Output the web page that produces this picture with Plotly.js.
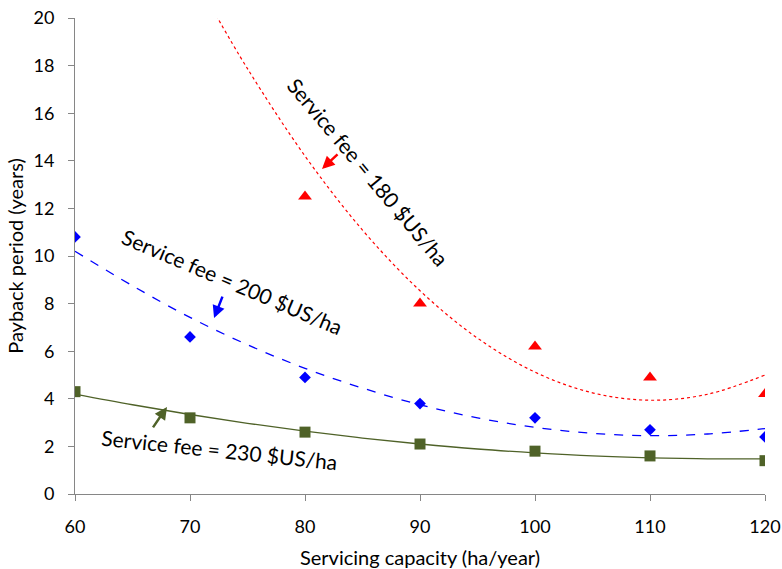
<!DOCTYPE html>
<html>
<head>
<meta charset="utf-8">
<script src="https://cdn.plot.ly/plotly-3.0.1.min.js"></script>
<style>
  html, body { margin: 0; padding: 0; background: #fff; }
  #chart { width: 782px; height: 569px; }
</style>
</head>
<body>
<div id="chart"></div>
<script>
// Servicing capacity (ha/year)
const capacity = [60, 70, 80, 90, 100, 110, 120];

// Payback period (years) per service fee
const fee180 = [null, null, 12.5, 8.0, 6.2, 4.9, 4.2];
const fee200 = [10.8, 6.6, 4.9, 3.8, 3.2, 2.7, 2.4];
const fee230 = [4.3, 3.2, 2.6, 2.1, 1.8, 1.6, 1.4];

// Polynomial trend lines
const trend180X = [72, 75, 80, 85, 90, 95, 100, 105, 110, 115, 120];
const trend180Y = [20.34, 17.87, 14.20, 11.09, 8.54, 6.55, 5.12, 4.25, 3.94, 4.19, 5.00];
const trend200X = [60, 65, 70, 75, 80, 85, 90, 95, 100, 105, 110, 115, 120];
const trend200Y = [10.2, 8.75, 7.42, 6.27, 5.28, 4.45, 3.75, 3.2, 2.8, 2.55, 2.45, 2.52, 2.75];
const trend230X = [60, 65, 70, 75, 80, 85, 90, 95, 100, 105, 110, 115, 120];
const trend230Y = [4.20, 3.75, 3.34, 2.97, 2.64, 2.35, 2.10, 1.89, 1.73, 1.60, 1.52, 1.48, 1.48];

// Axis ticks
const xTicks = [60, 70, 80, 90, 100, 110, 120];
const yTicks = [0, 2, 4, 6, 8, 10, 12, 14, 16, 18, 20];

// Labels
const label180 = 'Service fee = 180 $US/ha';
const label200 = 'Service fee = 200 $US/ha';
const label230 = 'Service fee = 230 $US/ha';

const RED = '#FF0000', BLUE = '#0000FF', GREEN = '#4F6228';
const FONT = 'Lato, "Open Sans", sans-serif';

const traces = [
  { x: trend180X, y: trend180Y, mode: 'lines', line: { color: RED, width: 1.2, dash: 'dot', shape: 'spline' }, hoverinfo: 'skip' },
  { x: trend200X, y: trend200Y, mode: 'lines', line: { color: BLUE, width: 1.3, dash: 'dash', shape: 'spline' }, hoverinfo: 'skip' },
  { x: trend230X, y: trend230Y, mode: 'lines', line: { color: GREEN, width: 1.3, shape: 'spline' }, hoverinfo: 'skip' },
  { x: capacity, y: fee180, mode: 'markers', marker: { symbol: 'triangle-up', size: 12, color: RED } },
  { x: capacity, y: fee200, mode: 'markers', marker: { symbol: 'diamond', size: 9, color: BLUE } },
  { x: capacity, y: fee230, mode: 'markers', marker: { symbol: 'square', size: 11, color: GREEN } }
];

const annFont = { family: FONT, size: 21, color: '#000' };

const layout = {
  width: 782, height: 569,
  margin: { l: 75, r: 17, t: 18, b: 75 },
  paper_bgcolor: '#fff', plot_bgcolor: '#fff',
  showlegend: false,
  font: { family: FONT, color: '#000' },
  xaxis: {
    range: [60, 120], tickvals: xTicks, ticktext: xTicks.map(String),
    showgrid: false, zeroline: false,
    showline: true, linecolor: '#868686', linewidth: 1,
    ticks: 'outside', ticklen: 6, tickcolor: '#868686',
    tickfont: { family: FONT, size: 18, color: '#000' },
    ticklabelstandoff: 10,
    title: { text: 'Servicing capacity (ha/year)', font: { family: FONT, size: 20, color: '#000' }, standoff: 15 }
  },
  yaxis: {
    range: [0, 20], tickvals: yTicks, ticktext: yTicks.map(String),
    showgrid: false, zeroline: false,
    showline: true, linecolor: '#868686', linewidth: 1,
    ticks: 'outside', ticklen: 6, tickcolor: '#868686',
    tickfont: { family: FONT, size: 18, color: '#000' },
    ticklabelstandoff: 10,
    title: { text: 'Payback period (years)', font: { family: FONT, size: 20, color: '#000' }, standoff: 4 }
  },
  annotations: [
    { x: 85.5, y: 13.55, xref: 'x', yref: 'y', text: label180, showarrow: false, textangle: 50, font: annFont },
    { x: 73.7, y: 8.93, xref: 'x', yref: 'y', text: label200, showarrow: false, textangle: 23, font: annFont },
    { x: 72.6, y: 1.85, xref: 'x', yref: 'y', text: label230, showarrow: false, textangle: 6, font: annFont },
    { x: 81.48, y: 13.66, xref: 'x', yref: 'y', text: '', showarrow: true, ax: 17, ay: -16, arrowcolor: RED, arrowwidth: 2.5, arrowhead: 2, arrowsize: 1, standoff: 0 },
    { x: 72.09, y: 7.39, xref: 'x', yref: 'y', text: '', showarrow: true, ax: 9, ay: -23, arrowcolor: BLUE, arrowwidth: 2.5, arrowhead: 2, arrowsize: 1, standoff: 0 },
    { x: 68.0, y: 3.66, xref: 'x', yref: 'y', text: '', showarrow: true, ax: -15, ay: 22, arrowcolor: GREEN, arrowwidth: 2.5, arrowhead: 2, arrowsize: 1, standoff: 0 }
  ]
};

Plotly.newPlot('chart', traces, layout, { staticPlot: true, displayModeBar: false });
</script>
</body>
</html>
